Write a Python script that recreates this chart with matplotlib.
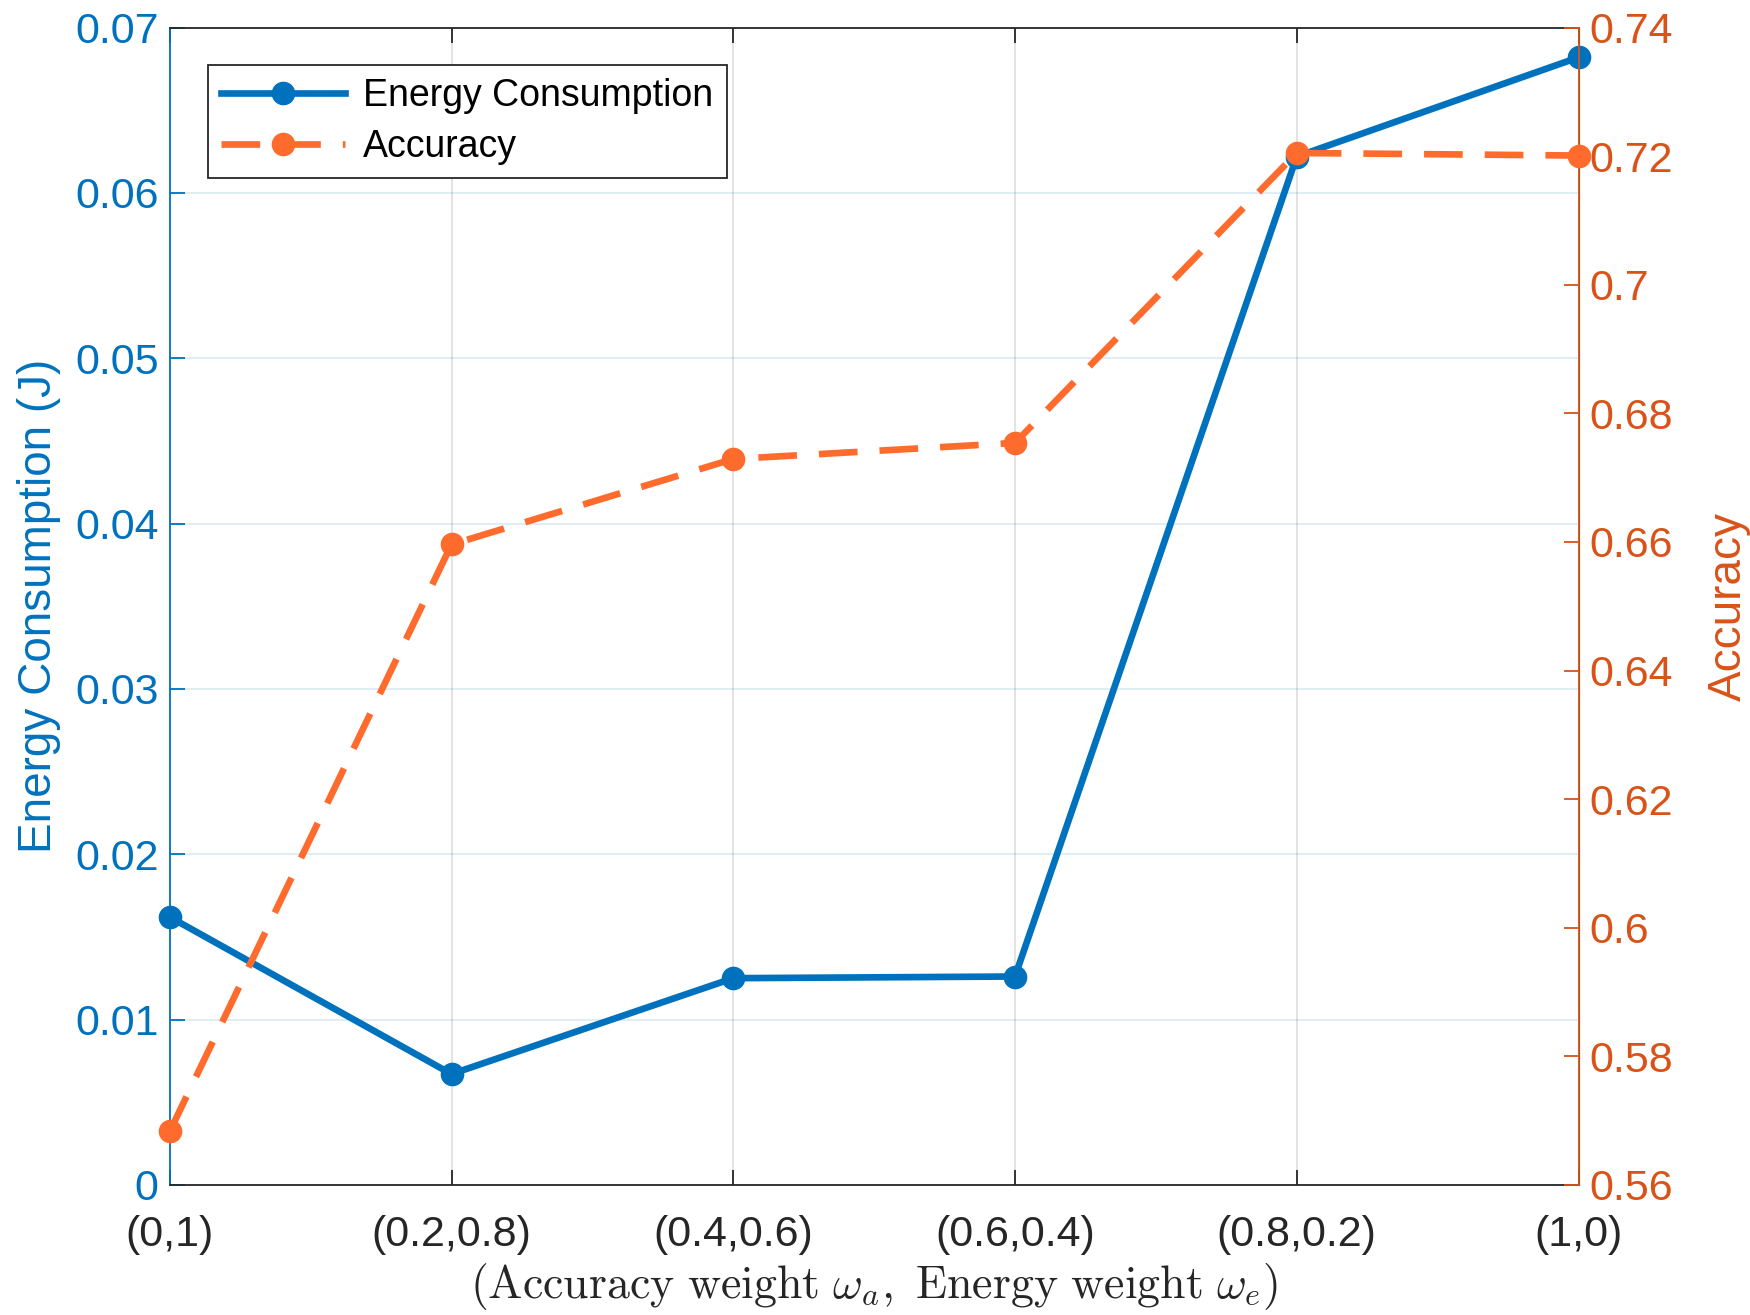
import matplotlib.pyplot as plt
import matplotlib as mpl

# weight pairs (accuracy weight, energy weight)
weights = ['(0,1)', '(0.2,0.8)', '(0.4,0.6)', '(0.6,0.4)', '(0.8,0.2)', '(1,0)']
energy = [0.0162, 0.0067, 0.0125, 0.0126, 0.0622, 0.0682]
accuracy = [0.5683, 0.6596, 0.6729, 0.6754, 0.7205, 0.7201]

blue = '#0072BD'
orange_line = '#FF6B2C'
orange_axis = '#D95319'
dark = '#262626'

plt.rcParams['font.family'] = ['Liberation Sans', 'DejaVu Sans']
plt.rcParams['mathtext.fontset'] = 'cm'

fig = plt.figure(figsize=(17.5, 13.15), dpi=100)
ax1 = fig.add_axes([0.097, 0.099, 0.805, 0.880])
ax2 = ax1.twinx()

x = list(range(len(weights)))
l1, = ax1.plot(x, energy, '-o', color=blue, lw=4.8, ms=16, clip_on=False,
               label='Energy Consumption', zorder=3)
l2, = ax2.plot(x, accuracy, '--o', color=orange_line, lw=4.8, ms=16, clip_on=False,
               dashes=(5.8, 3.3), label='Accuracy', zorder=3)

ax1.set_xlim(0, 5)
ax1.set_ylim(0, 0.07)
ax2.set_ylim(0.56, 0.74)
ax1.set_xticks(x)
ax1.set_xticklabels(weights)
ax1.set_yticks([0, 0.01, 0.02, 0.03, 0.04, 0.05, 0.06, 0.07])
ax1.set_yticklabels(['0', '0.01', '0.02', '0.03', '0.04', '0.05', '0.06', '0.07'])
ax2.set_yticks([0.56 + 0.02 * i for i in range(10)])
ax2.set_yticklabels(['0.56', '0.58', '0.6', '0.62', '0.64', '0.66', '0.68', '0.7', '0.72', '0.74'])

# grid like MATLAB
ax1.xaxis.grid(True, color=dark, alpha=0.15, lw=1.2)
ax1.yaxis.grid(True, color=blue, alpha=0.15, lw=1.2)
ax1.set_axisbelow(True)

ax1.tick_params(axis='x', direction='in', length=11, width=1.3, top=True,
                colors=dark, labelsize=31, pad=22)
ax1.tick_params(axis='y', direction='in', length=11, width=1.3, colors=blue,
                labelsize=31, pad=8)
ax2.tick_params(axis='y', direction='in', length=11, width=1.3, colors=orange_axis,
                labelsize=31, pad=8)

for s in ['top', 'bottom']:
    ax1.spines[s].set_color(dark)
    ax1.spines[s].set_linewidth(1.3)
ax1.spines['left'].set_color(blue)
ax1.spines['left'].set_linewidth(1.3)
ax2.spines['right'].set_color(orange_axis)
ax2.spines['right'].set_linewidth(1.3)
for s in ['top', 'bottom', 'left']:
    ax2.spines[s].set_visible(False)

ax1.set_ylabel('Energy Consumption (J)', color=blue, fontsize=33, labelpad=10)
ax2.set_ylabel('Accuracy', color=orange_axis, fontsize=33, labelpad=24)
ax1.set_xlabel(r'$\mathrm{(Accuracy\ weight\ }\omega_a\mathrm{,\ Energy\ weight\ }\omega_e\mathrm{)}$',
               fontsize=33, color=dark, labelpad=4)

leg = ax2.legend([l1, l2], ['Energy Consumption', 'Accuracy'], loc='upper left',
                 bbox_to_anchor=(0.027, 0.968), fontsize=27, fancybox=False,
                 framealpha=1, edgecolor=dark, handlelength=3.3, borderpad=0.35,
                 labelspacing=0.4, handletextpad=0.5, borderaxespad=0)
leg.get_frame().set_linewidth(1.3)

fig.savefig('out.png', dpi=100)
